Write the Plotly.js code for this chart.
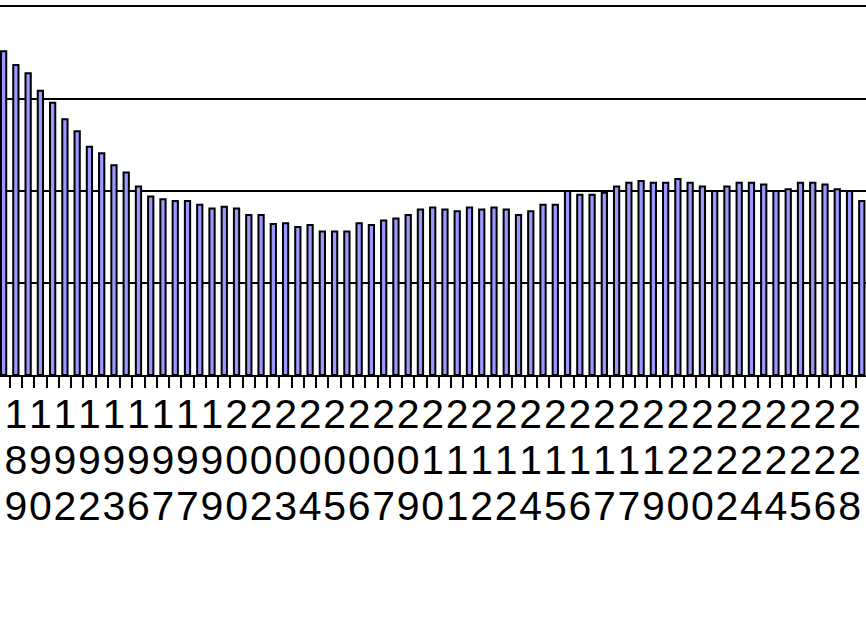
<!DOCTYPE html>
<html>
<head>
<meta charset="utf-8">
<script src="https://cdn.plot.ly/plotly-3.0.1.min.js"></script>
<style>
html,body{margin:0;padding:0;background:#fff;}
#chart{width:866px;height:624px;}
</style>
</head>
<body>
<div id="chart"></div>
<script>
// Bar values (71 visible bars; grid unit = 1)
const values = [
  3.52, 3.37, 3.28, 3.09, 2.96, 2.78, 2.65, 2.48, 2.41, 2.28,
  2.20, 2.05, 1.94, 1.91, 1.89, 1.89, 1.85, 1.81, 1.83, 1.81,
  1.74, 1.74, 1.64, 1.65, 1.61, 1.63, 1.56, 1.56, 1.56, 1.65,
  1.63, 1.68, 1.70, 1.74, 1.80, 1.82, 1.80, 1.78, 1.82, 1.80,
  1.82, 1.80, 1.74, 1.78, 1.85, 1.85, 2.00, 1.96, 1.96, 1.98,
  2.05, 2.09, 2.11, 2.09, 2.09, 2.13, 2.09, 2.05, 2.00, 2.05,
  2.09, 2.09, 2.07, 2.00, 2.02, 2.09, 2.09, 2.07, 2.02, 2.00,
  1.89
];

// Category labels shown under every second bar (digits stacked vertically)
const tickLabels = [
  "189","190","192","192","193","196","197","197","199","200",
  "202","203","204","205","206","207","209","210","211","212",
  "212","214","215","216","217","217","219","220","220","222",
  "224","224","225","226","228"
];

const barColor = "#9999FF";
const LABEL_FONT = "'Liberation Sans', Arial, sans-serif";

const xIdx = values.map((_, i) => i);
const xRange = [-0.294, 70.343];
const boundaryTicks = values.map((_, i) => i + 0.5);
const labelPos = tickLabels.map((_, i) => 2 * i + 1);

const traces = [
  {
    type: "bar",
    x: xIdx,
    y: values,
    xaxis: "x",
    yaxis: "y",
    marker: { color: barColor, line: { color: "#000000", width: 2 } },
    hoverinfo: "skip",
    showlegend: false
  },
  { type: "scatter", x: [], y: [], xaxis: "x2", yaxis: "y", showlegend: false, hoverinfo: "skip" },
  { type: "scatter", x: [], y: [], xaxis: "x3", yaxis: "y", showlegend: false, hoverinfo: "skip" },
  { type: "scatter", x: [], y: [], xaxis: "x4", yaxis: "y", showlegend: false, hoverinfo: "skip" }
];

function rowAxis(row, standoff) {
  return {
    overlaying: "x",
    anchor: "y",
    side: "bottom",
    type: "linear",
    range: xRange,
    tickmode: "array",
    tickvals: labelPos,
    ticktext: tickLabels.map(s => s[row]),
    tickangle: 0,
    ticks: "",
    showgrid: false,
    zeroline: false,
    showline: false,
    tickfont: { family: LABEL_FONT, size: 41, color: "#000000" },
    ticklabelstandoff: standoff,
    automargin: false,
    fixedrange: true
  };
}

const layout = {
  width: 866,
  height: 624,
  margin: { l: 0, r: 0, t: 7, b: 249, pad: 0 },
  paper_bgcolor: "#ffffff",
  plot_bgcolor: "#ffffff",
  showlegend: false,
  bargap: 0.57,
  xaxis: {
    type: "linear",
    range: xRange,
    tickmode: "array",
    tickvals: boundaryTicks,
    ticktext: boundaryTicks.map(() => ""),
    ticks: "outside",
    ticklen: 11,
    tickwidth: 2,
    tickcolor: "#000000",
    showticklabels: false,
    showline: true,
    mirror: true,
    linecolor: "#000000",
    linewidth: 2,
    showgrid: false,
    zeroline: false,
    automargin: false,
    fixedrange: true
  },
  xaxis2: rowAxis(0, 11),
  xaxis3: rowAxis(1, 57),
  xaxis4: rowAxis(2, 103),
  yaxis: {
    range: [0, 4],
    tick0: 0,
    dtick: 1,
    showgrid: true,
    gridcolor: "#000000",
    gridwidth: 2,
    showticklabels: false,
    ticks: "",
    zeroline: false,
    showline: false,
    automargin: false,
    fixedrange: true
  }
};

Plotly.newPlot("chart", traces, layout, { staticPlot: true, displayModeBar: false });
</script>
</body>
</html>
